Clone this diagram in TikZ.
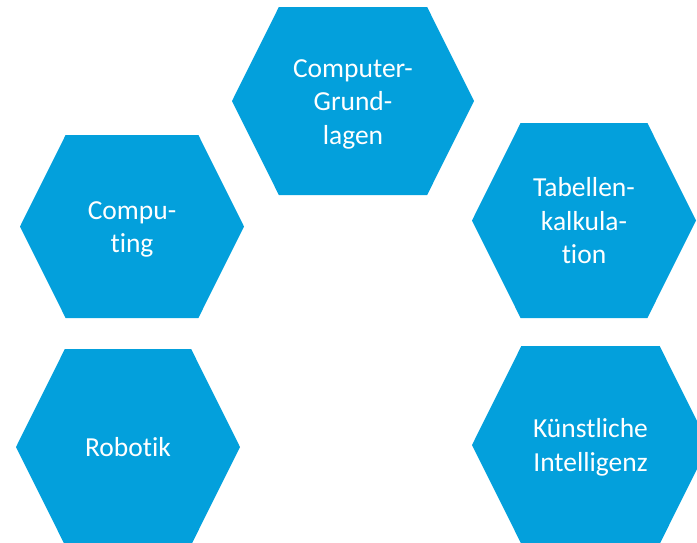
\documentclass[tikz,border=0pt]{standalone}
\usepackage{fontspec}
\setmainfont[Ligatures={NoCommon}]{Carlito}
\usetikzlibrary{shapes.symbols}
\definecolor{hexblue}{RGB}{3,160,220}
\newcommand\hs{\rule[-6pt]{0pt}{31.4pt}}

\begin{document}
\begin{tikzpicture}[x=1pt, y=-1pt,
  hexa/.style={signal, signal to=east and west, signal pointer angle=127,
    fill=hexblue, draw=none, text=white, align=center, inner sep=0pt,
    font=\fontsize{27.5}{33.5}\selectfont}]

  % page frame
  \useasboundingbox (0,0) rectangle (697,542);
  \clip (0,0) rectangle (697,542);

  % top
  \node at (353,101) (grundlagen) [hexa, minimum width=242pt, minimum height=188pt] {\hs Computer-\\Grund-\\lagen\hs};

  % middle row
  \node at (132,226.5) (computing) [hexa, minimum width=224pt, minimum height=183pt] {\hs Compu-\\ting\hs};
  \node at (584,220.5) (tabellen) [hexa, minimum width=224pt, minimum height=195pt] {\hs Tabellen-\\kalkula-\\tion\hs};

  % bottom row
  \node at (128,447) (robotik) [hexa, minimum width=224pt, minimum height=196pt] {\hs Robotik};
  \node at (590.5,445) (ki) [hexa, minimum width=237pt, minimum height=198pt] {\hs Künstliche\\Intelligenz\hs};

\end{tikzpicture}
\end{document}
